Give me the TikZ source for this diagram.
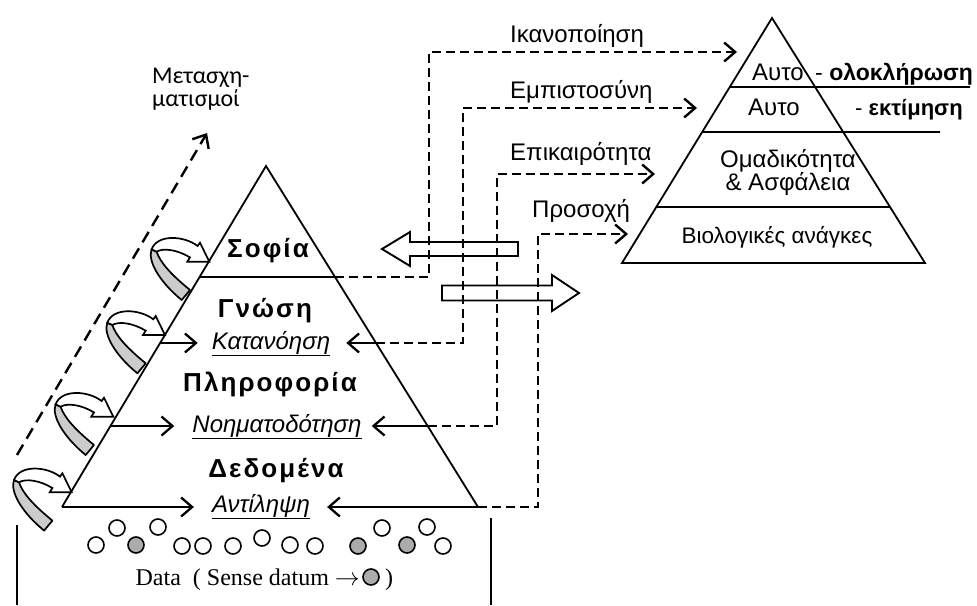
\documentclass[tikz,border=0pt]{standalone}
\usepackage{fontspec}
\setmainfont{Liberation Sans}
\newfontfamily\datafont{Liberation Serif}
\newfontfamily\notefont{Carlito}
\newfontfamily\spacedfont[LetterSpace=8]{Liberation Sans}
\usetikzlibrary{arrows.meta,calc}

% curved "turn" arrow: grey underside band and white arrow body, tip at the origin
\tikzset{
  turnarrow/.pic={
    \filldraw[fill=gray!40,line width=1.7pt,line join=round]
      (-57.7,-12.3) .. controls (-62,-1) and (-50,20) .. (-27.6,38.3)
      -- (-19.3,28.3) .. controls (-38,13) and (-49,1) .. (-52.7,-10) -- cycle;
    \filldraw[fill=white,line width=1.7pt,line join=miter]
      (-57.7,-12.3) .. controls (-52,-28) and (-25,-26) .. (-11.7,-15.7)
      -- (-9.3,-19) -- (0,0) -- (-22,0) -- (-19.3,-4.3)
      .. controls (-32,-12) and (-46,-14) .. (-52.7,-10) -- cycle;
  }
}

\begin{document}
\begin{tikzpicture}[x=1pt,y=-1pt,
  >={Straight Barb[length=11pt,width=19pt]},
  edge/.style={line width=1.8pt},
  dashline/.style={line width=2.4pt,dash pattern=on 9pt off 5pt},
  solidarrow/.style={line width=2.3pt,->},
  txt/.style={inner sep=0pt,font=\fontsize{24}{28}\selectfont},
  level/.style={inner sep=0pt,font=\spacedfont\bfseries\fontsize{26}{30}\selectfont},
  act/.style={inner sep=0pt,font=\itshape\fontsize{24}{28}\selectfont},
  dot/.style={circle,draw,line width=1.6pt,minimum size=16pt,inner sep=0pt},
  sense/.style={dot,fill=gray!65},
  hollow/.style={draw,line width=1.9pt,line join=miter}
]
\useasboundingbox (0,0) rectangle (977,605);

% ---------- knowledge pyramid ----------
\coordinate (LA) at (266,166);
\coordinate (LL) at (62,507);
\coordinate (LR) at (478,507);
\draw[edge] (LL) -- (LA) -- (LR);

\coordinate (sL) at ($(LA)!0.3255!(LL)$);
\coordinate (sR) at ($(LA)!0.3255!(LR)$);
\coordinate (kL) at ($(LA)!0.519!(LL)$);
\coordinate (kR) at ($(LA)!0.519!(LR)$);
\coordinate (nL) at ($(LA)!0.7625!(LL)$);
\coordinate (nR) at ($(LA)!0.7625!(LR)$);
\draw[edge] (sL) -- (sR);

\node[level,anchor=base] (sofia) at (268,257) {Σοφία};
\node[level,anchor=base] (gnosi) at (265,317) {Γνώση};
\node[act,anchor=base] (katan) at (271,349) {\underline{Κατανόηση}};
\node[level,anchor=base] (plir) at (270,391) {Πληροφορία};
\node[act,anchor=base] (noim) at (277,432) {\underline{Νοηματοδότηση}};
\node[level,anchor=base] (dedom) at (276,477) {Δεδομένα};
\node[act,anchor=base] (antil) at (261,512) {\underline{Αντίληψη}};

% arrows entering each level from the left edge
\draw[solidarrow,shorten >=14pt] (kL) -- (kL -| katan.west);
\draw[solidarrow,shorten >=18pt] (nL) -- (nL -| noim.west);
\draw[solidarrow,shorten >=18pt] (LL) -- (LL -| antil.west);

% arrows entering each level from the right edge
\draw[solidarrow,shorten >=16pt] (kR) -- (kR -| katan.east);
\draw[solidarrow,shorten >=10pt] (nR) -- (nR -| noim.east);
\draw[solidarrow,shorten >=17pt] (LR) -- (LR -| antil.east);

% curved arrows climbing the left edge
\pic at (209.3,261.7) {turnarrow};
\pic at (165,335) {turnarrow};
\pic at (113.3,416.7) {turnarrow};
\pic at (71.7,492.3) {turnarrow};

% transformations
\coordinate (tStart) at (17,455);
\coordinate (tEnd) at (207,133);
\draw[line width=2.4pt,dash pattern=on 12pt off 7pt,->] (tStart) -- (tEnd);
\node[inner sep=0pt,anchor=base west,font=\notefont\fontsize{24}{27}\selectfont]
  (metasx1) at (152,83) {Μετασχη-};
\node[inner sep=0pt,anchor=base west,font=\notefont\fontsize{24}{27}\selectfont]
  (metasx2) at (152,106) {ματισμοί};

% ---------- needs pyramid ----------
\coordinate (RA) at (772,18);
\coordinate (RL) at (622,263);
\coordinate (RR) at (925,263);
\draw[edge] (RA) -- (RL) -- (RR) -- cycle;
\draw[edge] ($(RA)!0.7714!(RL)$) -- ($(RA)!0.7714!(RR)$);
\coordinate (r2) at (940,132);
\coordinate (r1) at (970,87);
\draw[edge] ($(RA)!0.4653!(RL)$) -- (r2);
\draw[edge] ($(RA)!0.2816!(RL)$) -- (r1);

\node[txt,anchor=base] (auto1) at (778,80) {Αυτο};
\node[txt,anchor=base west,font=\fontsize{23}{27}\selectfont] (olokl) at (815,80) {- \textbf{ολοκλήρωση}};
\node[txt,anchor=base] (auto2) at (774,115) {Αυτο};
\node[txt,anchor=base west,font=\fontsize{22}{27}\selectfont] (ektim) at (855,115) {- \textbf{εκτίμηση}};
\node[txt,anchor=base] (omad) at (788,167) {Ομαδικότητα};
\node[txt,anchor=base] (asfal) at (788,190) {\& Ασφάλεια};
\node[txt,anchor=base,font=\fontsize{22.5}{27}\selectfont] (bio) at (777,243) {Βιολογικές ανάγκες};

% ---------- dashed links between the pyramids ----------
\coordinate (v1) at (429,52);  \coordinate (e1) at (737,52);
\coordinate (v2) at (463,108); \coordinate (e2) at (697,108);
\coordinate (v3) at (497,174); \coordinate (e3) at (655,174);
\coordinate (v4) at (538,234); \coordinate (e4) at (628,234);
\draw[dashline,->] (sR) -| (v1) -- (e1);
\draw[dashline,->] (kR) -| (v2) -- (e2);
\draw[dashline,->] (nR) -| (v3) -- (e3);
\draw[dashline,->] (LR) -| (v4) -- (e4);

\node[txt,anchor=base west] (ikan) at (510,42) {Ικανοποίηση};
\node[txt,anchor=base west] (empist) at (510,98) {Εμπιστοσύνη};
\node[txt,anchor=base west] (epik) at (510,160) {Επικαιρότητα};
\node[txt,anchor=base west] (prosoxi) at (532,217) {Προσοχή};

% hollow block arrows
\draw[hollow] (382,249) -- (410,232) -- (410,242) -- (518,242) -- (518,256)
  -- (410,256) -- (410,266) -- cycle;
\draw[hollow] (579,293) -- (552,275) -- (552,285.5) -- (442,285.5) -- (442,300.5)
  -- (552,300.5) -- (552,311) -- cycle;

% ---------- sense data ----------
\foreach \x/\y [count=\i] in {96/545,117/528,158/527,182/546,203/546,233/546,
    262/538,290/545,315/546,382/528,427/527,443/546}
  \node[dot] (w\i) at (\x,\y) {};
\foreach \x/\y [count=\i] in {136/545,358/546,407/545}
  \node[sense] (g\i) at (\x,\y) {};

\draw[edge] (17,525) -- (17,605);
\draw[edge] (491,518) -- (491,605);

\node[inner sep=0pt,anchor=base east,font=\datafont\fontsize{24}{28}\selectfont]
  (datatxt) at (360,585) {Data \ ( Sense datum $\rightarrow$};
\node[sense] (datadot) at (371,577) {};
\node[inner sep=0pt,anchor=base west,font=\datafont\fontsize{24}{28}\selectfont]
  (dataclose) at (385,585) {)};
\end{tikzpicture}
\end{document}
